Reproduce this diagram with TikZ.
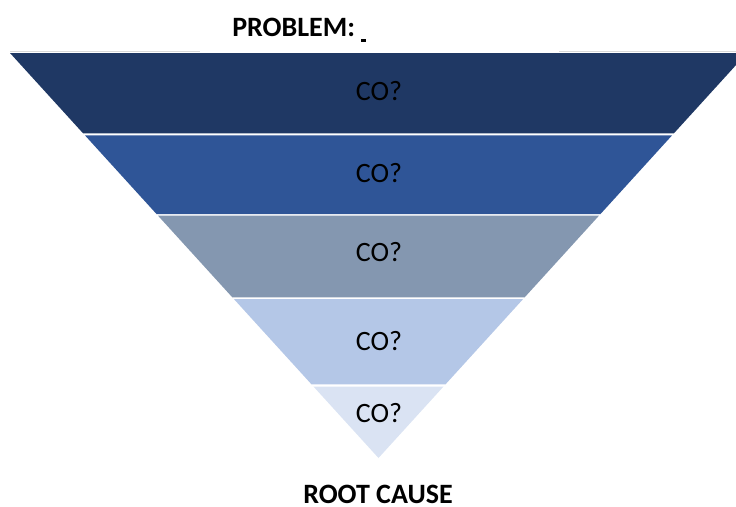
\documentclass[tikz,border=0pt]{standalone}
\usepackage{fontspec}
\setmainfont{Carlito}
\definecolor{bandA}{HTML}{1F3864}
\definecolor{bandB}{HTML}{2F5597}
\definecolor{bandC}{HTML}{8497B0}
\definecolor{bandD}{HTML}{B4C7E7}
\definecolor{bandE}{HTML}{DAE3F3}
\definecolor{rimgray}{HTML}{D9D9D9}
\tikzset{
  lbl/.style={font=\fontsize{21}{25}\selectfont, text=black, inner sep=0pt},
  ttl/.style={font=\fontsize{21}{25}\selectfont\bfseries, text=black, inner sep=0pt},
}
\begin{document}
\begin{tikzpicture}[x=0.75pt,y=-0.75pt]
\useasboundingbox (0,0) rectangle (736,507);
\clip (0,0) rectangle (736,507);
% faint rim line above the top band
\draw[rimgray, line width=1.1pt] (10,51.5) -- (200,51.5);
\draw[rimgray, line width=1.1pt] (559,51.5) -- (736,51.5);
% bands
\fill[bandA] (10,53) -- (747,53) -- (673.93,133.3) -- (83.07,133.3) -- cycle;
\fill[bandB] (84.89,135.3) -- (672.11,135.3) -- (600.51,214) -- (156.49,214) -- cycle;
\fill[bandC] (158.04,215.7) -- (598.96,215.7) -- (524.71,297.3) -- (232.29,297.3) -- cycle;
\fill[bandD] (233.84,299) -- (523.16,299) -- (445.55,384.3) -- (311.45,384.3) -- cycle;
\fill[bandE] (313.45,386.5) -- (443.55,386.5) -- (378.5,458) -- cycle;
% labels
\node[lbl] (c1) at (379,91) {CO?};
\node[lbl] (c2) at (379,173) {CO?};
\node[lbl] (c3) at (379,252) {CO?};
\node[lbl] (c4) at (379,341) {CO?};
\node[lbl] (c5) at (379,413) {CO?};
\node[ttl, anchor=base west] (prob) at (232,36) {PROBLEM: \rule[-4.5pt]{3.75pt}{2.25pt}};
\node[ttl, anchor=base] (root) at (378,503) {ROOT CAUSE};
\end{tikzpicture}
\end{document}
